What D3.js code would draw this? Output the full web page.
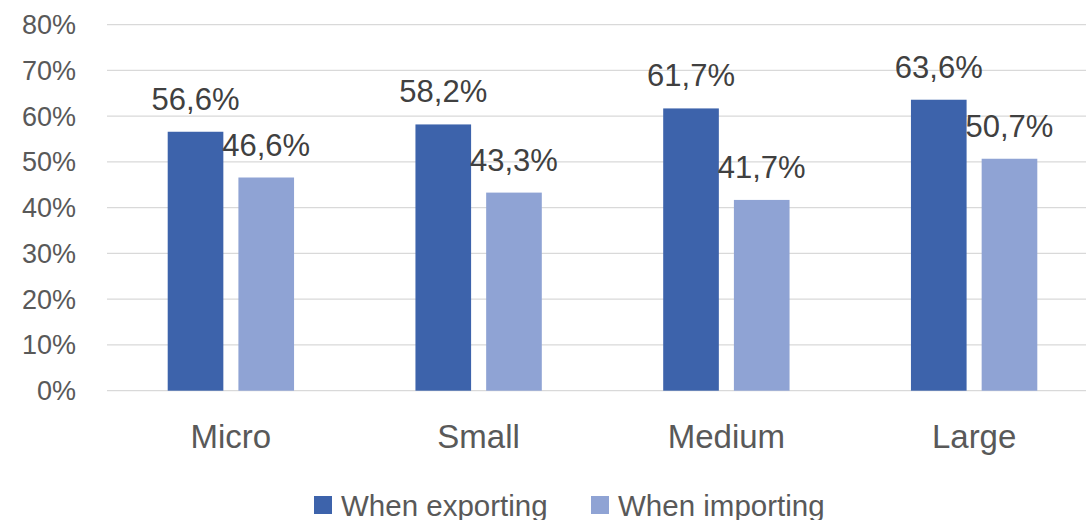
<!DOCTYPE html>
<html lang="en">
<head>
    <meta charset="UTF-8">
    <title>Exporting / importing by firm size</title>
    <script src="https://d3js.org/d3.v7.min.js"></script>
    <style type="text/css">
        body { margin: 0; background: #fff; }
        text { font-family: "Liberation Sans", Arial, sans-serif; }
    </style>
</head>
<body>
    <div id="chartArea"></div>
    <script type="text/javascript">
        var categories = ['Micro', 'Small', 'Medium', 'Large'];
        var seriesNames = ['When exporting', 'When importing'];
        var exporting = [56.6, 58.2, 61.7, 63.6];
        var importing = [46.6, 43.3, 41.7, 50.7];
        var yTicks = [0, 10, 20, 30, 40, 50, 60, 70, 80];
        var colors = ['#3D63AB', '#8FA3D4'];

        var w = 1086, h = 520;
        var svg = d3.select('#chartArea').append('svg')
            .attr('width', w)
            .attr('height', h);

        var x0 = d3.scaleBand()
            .domain(categories)
            .range([107, 1098])
            .paddingInner(0.49)
            .paddingOuter(0.245);

        var x1 = d3.scaleBand()
            .domain(seriesNames)
            .range([0, x0.bandwidth()])
            .paddingInner(0.213);

        var y = d3.scaleLinear()
            .domain([0, 80])
            .range([390.7, 24.7]);

        var fmt = function (v) { return v.toFixed(1).replace('.', ',') + '%'; };

        // gridlines
        svg.append('g').selectAll('line')
            .data(yTicks)
            .enter()
            .append('line')
            .attr('x1', 107)
            .attr('x2', w)
            .attr('y1', function (d) { return y(d); })
            .attr('y2', function (d) { return y(d); })
            .attr('stroke', '#D9D9D9')
            .attr('stroke-width', 1.3);

        // y labels
        svg.append('g').selectAll('text')
            .data(yTicks)
            .enter()
            .append('text')
            .attr('x', 76)
            .attr('y', function (d) { return y(d) + 9.5; })
            .attr('text-anchor', 'end')
            .attr('font-size', 27)
            .attr('fill', '#595959')
            .text(function (d) { return d + '%'; });

        var rows = [];
        categories.forEach(function (c, i) {
            rows.push({ cat: c, s: 0, v: exporting[i] });
            rows.push({ cat: c, s: 1, v: importing[i] });
        });

        svg.append('g').selectAll('rect')
            .data(rows)
            .enter()
            .append('rect')
            .attr('x', function (d) { return x0(d.cat) + x1(seriesNames[d.s]); })
            .attr('y', function (d) { return y(d.v); })
            .attr('width', x1.bandwidth())
            .attr('height', function (d) { return y(0) - y(d.v); })
            .attr('fill', function (d) { return colors[d.s]; });

        svg.append('g').selectAll('text')
            .data(rows)
            .enter()
            .append('text')
            .attr('x', function (d) { return x0(d.cat) + x1(seriesNames[d.s]) + x1.bandwidth() / 2; })
            .attr('y', function (d) { return y(d.v) - 22; })
            .attr('text-anchor', 'middle')
            .attr('font-size', 31)
            .attr('fill', '#404040')
            .text(function (d) { return fmt(d.v); });

        // category labels
        svg.append('g').selectAll('text')
            .data(categories)
            .enter()
            .append('text')
            .attr('x', function (d) { return x0(d) + x0.bandwidth() / 2; })
            .attr('y', 448)
            .attr('text-anchor', 'middle')
            .attr('font-size', 33)
            .attr('fill', '#595959')
            .text(function (d) { return d; });

        // legend
        var legendX = [314, 591];
        var legend = svg.append('g').selectAll('g')
            .data(seriesNames)
            .enter()
            .append('g')
            .attr('transform', function (d, i) { return 'translate(' + legendX[i] + ',496)'; });
        legend.append('rect')
            .attr('width', 18)
            .attr('height', 18)
            .attr('fill', function (d, i) { return colors[i]; });
        legend.append('text')
            .attr('x', 27)
            .attr('y', 19.5)
            .attr('font-size', 29.5)
            .attr('fill', '#595959')
            .text(function (d) { return d; });
    </script>
</body>
</html>
